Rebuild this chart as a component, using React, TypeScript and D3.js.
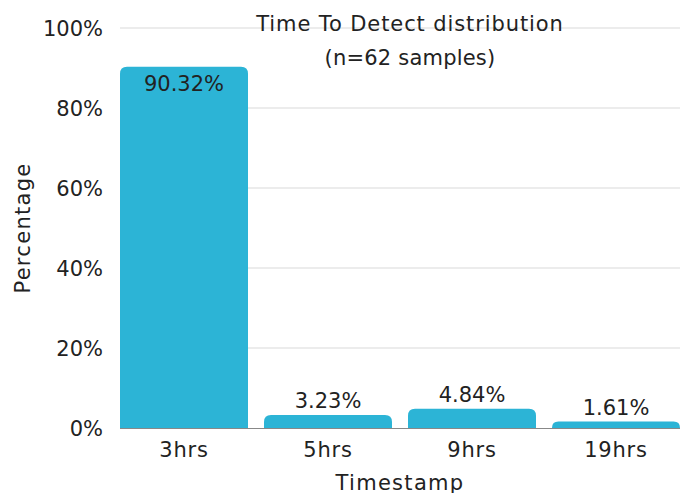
import React from "react";
import * as d3 from "d3";

const categories = ["3hrs", "5hrs", "9hrs", "19hrs"];
const values = [90.32, 3.23, 4.84, 1.61];
const yTicks = [0, 20, 40, 60, 80, 100];
const titleLines = ["Time To Detect distribution", "(n=62 samples)"];

const W = 680, H = 493;
const FONT = "'DejaVu Sans', sans-serif";
const FS = 21;

function topRoundedRect(x: number, y: number, w: number, h: number, r: number) {
  const rr = Math.min(r, h, w / 2);
  return `M${x},${y + h}V${y + rr}Q${x},${y} ${x + rr},${y}H${x + w - rr}Q${x + w},${y} ${x + w},${y + rr}V${y + h}Z`;
}

export default function App() {
  const x = d3.scaleBand<string>().domain(categories).range([120, 680]).paddingInner(16 / 144).paddingOuter(0);
  const y = d3.scaleLinear().domain([0, 100]).range([428, 28]);
  return (
    <svg width={W} height={H} style={{ position: "absolute", left: 0, top: 0, background: "#fff" }} fontFamily={FONT}>
      {yTicks.map((t) => (
        <g key={t}>
          {t > 0 && <line x1={120} x2={680} y1={y(t)} y2={y(t)} stroke="#d9d9d9" strokeWidth={1} />}
          <text x={103} y={y(t)} dy="0.36em" textAnchor="end" fontSize={FS} fill="#222">{t}%</text>
        </g>
      ))}
      {titleLines.map((s, i) => (
        <text key={i} x={410} y={31 + i * 34} textAnchor="middle" fontSize={FS} letterSpacing={i === 0 ? 0.9 : 0.2} fill="#222">{s}</text>
      ))}
      {categories.map((c, i) => {
        const v = values[i];
        const x0 = x(c)!;
        const bw = x.bandwidth();
        const top = y(v);
        const inside = v > 80;
        return (
          <g key={c}>
            <path d={topRoundedRect(x0, top, bw, y(0) - top, 7)} fill="#2cb4d6" />
            <text x={x0 + bw / 2} y={inside ? top + 24 : top - 7} textAnchor="middle" fontSize={FS} fill="#222">{v.toFixed(2)}%</text>
            <text x={x0 + bw / 2} y={457} textAnchor="middle" fontSize={FS} letterSpacing={0.8} fill="#222">{c}</text>
          </g>
        );
      })}
      <line x1={120} x2={680} y1={428.5} y2={428.5} stroke="#888" strokeWidth={1} />
      <text x={400} y={490} textAnchor="middle" fontSize={FS} letterSpacing={1.3} fill="#222">Timestamp</text>
      <text transform="translate(30,228) rotate(-90)" textAnchor="middle" fontSize={FS} letterSpacing={1.3} fill="#222">Percentage</text>
    </svg>
  );
}
